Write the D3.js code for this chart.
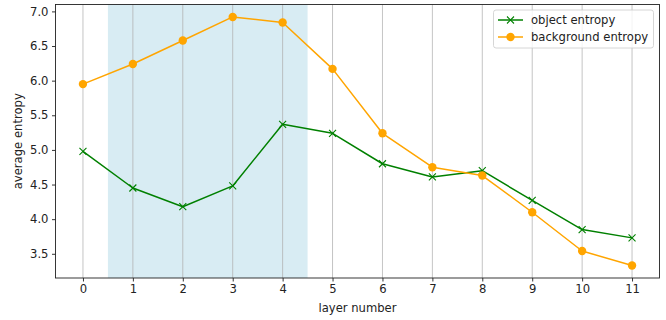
<!DOCTYPE html>
<html>
<head>
<meta charset="utf-8">
<script src="https://cdn.jsdelivr.net/npm/d3@7"></script>
<style>
  html, body { margin: 0; padding: 0; background: #fff; }
  svg { display: block; font-family: "DejaVu Sans", sans-serif; }
</style>
</head>
<body>
<svg id="chart" width="666" height="320"></svg>
<script>
// Per-layer entropy measurements
const layers = [0, 1, 2, 3, 4, 5, 6, 7, 8, 9, 10, 11];
const objectEntropy = [4.98, 4.45, 4.18, 4.48, 5.37, 5.24, 4.80, 4.61, 4.70, 4.27, 3.85, 3.73];
const backgroundEntropy = [5.95, 6.24, 6.58, 6.92, 6.84, 6.17, 5.24, 4.75, 4.63, 4.10, 3.54, 3.33];
const yTicks = [3.5, 4.0, 4.5, 5.0, 5.5, 6.0, 6.5, 7.0];
const shadedLayers = [0.5, 4.5];

const seriesList = [
  { name: "object entropy", values: objectEntropy, color: "green", marker: "x" },
  { name: "background entropy", values: backgroundEntropy, color: "orange", marker: "o" }
];

const FONT = 11.6;
const svg = d3.select("#chart");
const plot = { left: 55.5, right: 659.5, top: 4.5, bottom: 278 };

// Axis limits with 5% padding on each side
const xMin = d3.min(layers), xMax = d3.max(layers);
const xPad = (xMax - xMin) * 0.05;
const x = d3.scaleLinear().domain([xMin - xPad, xMax + xPad]).range([plot.left, plot.right]);

const allVals = objectEntropy.concat(backgroundEntropy);
const yMin = d3.min(allVals), yMax = d3.max(allVals);
const yPad = (yMax - yMin) * 0.05;
const y = d3.scaleLinear().domain([yMin - yPad, yMax + yPad]).range([plot.bottom, plot.top]);

// Highlighted band of layers
svg.append("rect")
  .attr("x", x(shadedLayers[0]))
  .attr("y", plot.top)
  .attr("width", x(shadedLayers[1]) - x(shadedLayers[0]))
  .attr("height", plot.bottom - plot.top)
  .attr("fill", "#add8e6")
  .attr("fill-opacity", 0.48);

// Vertical grid lines
svg.append("g").selectAll("line").data(layers).join("line")
  .attr("x1", d => x(d)).attr("x2", d => x(d))
  .attr("y1", plot.top).attr("y2", plot.bottom)
  .attr("stroke", "#b0b0b0")
  .attr("stroke-opacity", 0.75)
  .attr("stroke-width", 1);

// Lines and markers
const line = d3.line().x((d, i) => x(layers[i])).y(d => y(d));
seriesList.forEach(s => {
  svg.append("path")
    .datum(s.values)
    .attr("d", line)
    .attr("fill", "none")
    .attr("stroke", s.color)
    .attr("stroke-width", 1.5)
    .attr("stroke-linejoin", "round");
  const g = svg.append("g");
  s.values.forEach((v, i) => drawMarker(g, x(layers[i]), y(v), s.marker, s.color));
});

function drawMarker(g, cx, cy, type, color) {
  if (type === "o") {
    g.append("circle").attr("cx", cx).attr("cy", cy).attr("r", 4.2).attr("fill", color);
  } else {
    const r = 3.5;
    g.append("path")
      .attr("d", `M${cx - r},${cy - r}L${cx + r},${cy + r}M${cx - r},${cy + r}L${cx + r},${cy - r}`)
      .attr("stroke", color).attr("stroke-width", 1.1).attr("fill", "none");
  }
}

// Axes
const xAxis = d3.axisBottom(x).tickValues(layers).tickSize(3.5).tickPadding(3.5).tickFormat(d3.format("d"));
const gx = svg.append("g").attr("transform", `translate(0,${plot.bottom})`).call(xAxis);
const yAxis = d3.axisLeft(y).tickValues(yTicks).tickSize(3.5).tickPadding(3.5).tickFormat(d3.format(".1f"));
const gy = svg.append("g").attr("transform", `translate(${plot.left},0)`).call(yAxis);
[gx, gy].forEach(g => {
  g.select(".domain").remove();
  g.selectAll(".tick line").attr("stroke", "#000").attr("stroke-width", 0.8);
  g.selectAll(".tick text").attr("font-size", FONT).attr("fill", "#222")
    .attr("font-family", "DejaVu Sans, sans-serif");
});

// Frame
svg.append("rect")
  .attr("x", plot.left).attr("y", plot.top)
  .attr("width", plot.right - plot.left).attr("height", plot.bottom - plot.top)
  .attr("fill", "none").attr("stroke", "#222").attr("stroke-width", 0.9);

// Axis titles
svg.append("text")
  .attr("x", (plot.left + plot.right) / 2).attr("y", 311.5)
  .attr("text-anchor", "middle").attr("font-size", FONT).attr("fill", "#222").text("layer number");
svg.append("text")
  .attr("transform", `translate(21.5,${(plot.top + plot.bottom) / 2}) rotate(-90)`)
  .attr("text-anchor", "middle").attr("font-size", FONT).attr("fill", "#222").text("average entropy");

// Legend
const legend = svg.append("g");
legend.append("rect")
  .attr("x", 493.5).attr("y", 10).attr("width", 160).attr("height", 38)
  .attr("rx", 2.5).attr("fill", "#fff").attr("fill-opacity", 0.8)
  .attr("stroke", "#ccc").attr("stroke-width", 0.8);
seriesList.forEach((s, i) => {
  const ly = 20 + i * 17;
  legend.append("line").attr("x1", 498).attr("x2", 523).attr("y1", ly).attr("y2", ly)
    .attr("stroke", s.color).attr("stroke-width", 1.5);
  drawMarker(legend, 510.5, ly, s.marker, s.color);
  legend.append("text").attr("x", 531).attr("y", ly).attr("dy", "0.35em")
    .attr("font-size", FONT).attr("fill", "#222").text(s.name);
});
</script>
</body>
</html>
